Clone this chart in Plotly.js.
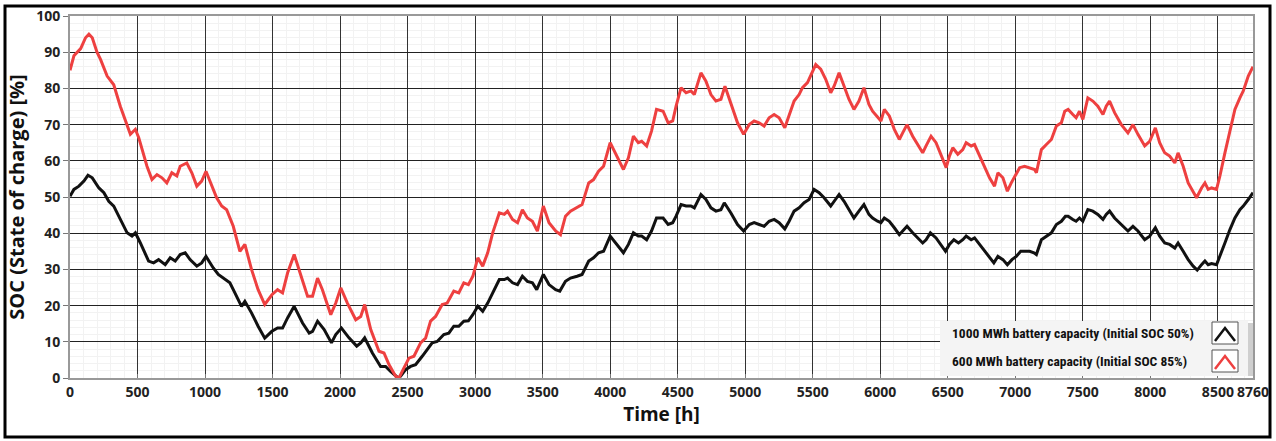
<!DOCTYPE html>
<html>
<head>
<meta charset="utf-8">
<script src="https://cdn.plot.ly/plotly-3.0.1.min.js"></script>
<style>html,body{margin:0;padding:0;background:#fff;}#chart{width:1276px;height:441px;}</style>
</head>
<body>
<div id="chart"></div>
<script>
// ---- data ----
const redHours = [0,29,79,115,140,165,200,226,275,324,373,423,447,484,509,570,607,644,681,717,754,791,816,865,902,939,975,1007,1049,1086,1123,1160,1209,1258,1295,1344,1393,1442,1495,1537,1574,1611,1660,1709,1759,1796,1833,1869,1931,1968,2005,2054,2116,2153,2182,2227,2288,2325,2362,2411,2436,2473,2510,2547,2596,2633,2670,2707,2756,2793,2842,2879,2916,2950,2983,3020,3056,3093,3130,3179,3216,3240,3277,3314,3350,3387,3424,3461,3505,3547,3596,3632,3669,3706,3755,3792,3841,3877,3914,3951,4000,4049,4098,4135,4172,4208,4233,4270,4306,4343,4392,4429,4463,4488,4525,4562,4598,4623,4672,4709,4746,4783,4820,4850,4894,4943,4988,5030,5066,5103,5140,5177,5214,5251,5293,5325,5362,5399,5424,5461,5485,5522,5559,5596,5633,5658,5695,5732,5768,5805,5842,5879,5916,5943,5980,6005,6030,6067,6104,6141,6166,6198,6240,6277,6314,6339,6376,6413,6450,6488,6512,6537,6574,6611,6636,6673,6698,6735,6772,6809,6846,6871,6908,6941,6970,7007,7032,7069,7106,7143,7156,7193,7230,7267,7304,7341,7366,7391,7426,7450,7475,7500,7537,7574,7611,7649,7673,7698,7735,7785,7834,7871,7908,7958,7995,8037,8069,8106,8143,8181,8205,8243,8280,8317,8342,8379,8404,8428,8453,8490,8515,8552,8589,8626,8663,8688,8725,8760];
const redSOC = [85,89,91,94,95,94,90,88,83.4,81,75,69.6,67.3,68.7,66.4,58.5,54.8,56.2,55.3,53.9,56.7,55.8,58.5,59.4,56.7,53,54.4,57.1,53,49.8,47.5,46.5,41.9,35,36.9,30,24.4,20.3,23,24.4,23.5,29,34.1,28.1,22.6,22.6,27.6,24.4,17.5,20.7,24.9,20.7,16.1,17,20.3,13.4,7.4,6.9,3.7,0.5,0,2.8,5.5,6,9.7,11,15.7,17,20.3,20.7,24,23.5,26.3,25.8,28.1,33.2,30.9,34.6,40.1,45.6,45.2,46.1,43.8,42.9,46.5,44.2,43.3,40.6,47.5,42.9,40.6,39.6,44.7,46.1,47,47.9,53.9,54.8,57.1,58.5,65,61.3,57.6,60.8,66.8,65,65.4,64.1,68.2,74.2,73.7,70.5,71,75.1,80.2,78.8,79.3,78.3,84.3,82,78.3,76.5,77,80.6,76,70.5,67.3,70,71,70.5,69.6,71.9,72.8,71.9,69.1,72.4,76.5,78.3,80.2,81.6,83.4,86.6,85.3,82.5,78.8,80.6,84.3,80.6,77,74.2,76.5,80.2,75.6,73.7,71.9,71,74.2,72.4,68.7,65.9,67.7,70,66.8,64.5,62.2,64.1,66.8,65,61.8,58.1,61.3,63.6,61.8,63.1,65,64.1,64.5,61.3,58.5,55.3,53,56.7,55.3,51.6,53.9,56.2,58.1,58.5,58.1,57.6,56.7,63.1,64.5,65.9,69.6,70.5,73.7,74.2,72.8,71.9,73.7,71.4,77.4,76.5,75.1,72.8,75.1,76.5,73.3,70,67.7,70,67.3,64.1,65.4,69.1,65,62.2,61.3,59.4,62.2,58.5,53.9,51.6,49.8,52.5,53.9,52.1,52.5,52.1,55.8,62.2,68.7,74.2,77.4,79.3,83.4,86];

const blackHours = [0,29,66,103,133,165,214,251,287,324,373,423,459,484,521,582,619,656,705,742,779,816,853,889,939,975,1007,1061,1098,1135,1184,1221,1270,1295,1344,1393,1442,1495,1537,1574,1611,1660,1722,1771,1796,1833,1882,1936,1968,2010,2066,2123,2153,2182,2239,2300,2337,2374,2411,2430,2448,2485,2522,2559,2608,2645,2682,2719,2768,2805,2842,2879,2916,2950,2983,3020,3056,3093,3130,3179,3216,3240,3277,3314,3350,3387,3424,3456,3505,3547,3596,3627,3669,3706,3755,3792,3841,3877,3914,3951,4000,4049,4098,4135,4172,4208,4233,4270,4306,4343,4392,4429,4463,4488,4525,4562,4598,4623,4672,4709,4746,4783,4820,4845,4894,4943,4988,5030,5066,5103,5140,5177,5214,5251,5293,5325,5362,5399,5436,5473,5510,5547,5584,5633,5658,5695,5732,5768,5805,5842,5879,5916,5943,5980,6005,6030,6067,6104,6141,6166,6198,6240,6277,6314,6339,6371,6413,6450,6483,6512,6545,6579,6611,6636,6673,6698,6735,6772,6809,6841,6871,6908,6941,6975,7007,7040,7069,7106,7138,7156,7193,7230,7267,7304,7341,7371,7391,7426,7450,7475,7500,7537,7574,7611,7649,7673,7698,7735,7785,7834,7871,7908,7958,7995,8037,8069,8106,8143,8181,8205,8243,8280,8317,8347,8379,8404,8428,8453,8490,8515,8552,8589,8626,8663,8688,8725,8760];
const blackSOC = [50.2,52.1,53,54.4,56,55.3,52.5,51.2,48.8,47.5,43.8,40.1,39.2,40.1,37.3,32.3,31.8,32.7,31.3,33.2,32.3,34.1,34.6,32.7,30.9,31.8,33.6,30.4,28.6,27.6,26.3,23.5,19.8,21.2,18,14.3,11,12.9,13.8,13.8,16.6,19.8,15.2,12.4,12.9,15.7,13.4,9.7,12,13.8,11.1,8.8,9.7,11.1,6.9,3.2,3.2,1.8,0.5,0,0.5,2.3,3.2,3.7,6,7.8,9.7,10.1,12,12.4,14.3,14.3,15.7,15.8,17.5,19.8,18.4,20.7,23.5,27.2,27.2,27.6,26.3,25.8,28.1,26.7,26.3,24.4,28.6,25.8,24.4,24,26.7,27.6,28.1,28.6,32.3,33.2,34.6,35,39.2,36.9,34.6,36.9,40.1,39.2,39.2,38.2,40.6,44.2,44.2,42.4,42.9,44.7,47.9,47.5,47.5,47,50.7,49.3,47,46.1,46.5,48.4,45.6,42.4,40.6,42.4,42.9,42.4,41.9,43.3,43.8,42.9,41.2,43.3,46.1,47,48.4,49.3,52.1,51.2,49.8,47.5,48.8,50.7,48.8,46.5,44.2,46.1,47.9,45.2,44.2,43.3,42.9,44.2,43.3,41.5,39.6,40.6,41.9,40.1,38.7,37.3,38.2,40.1,38.7,36.9,35,36.9,38.2,37.3,38.2,39.2,38.2,38.7,36.9,35,33.2,31.8,33.6,32.7,31.3,32.7,33.6,35,35,35,34.6,34.1,38.2,39.2,40.1,42.4,43.3,44.7,44.7,43.8,43.3,44.2,43.3,46.5,46.1,45.2,43.8,45.2,46.1,44.2,42.4,40.6,41.9,40.6,38.2,39.2,41.5,39.2,37.3,36.9,35.9,37.3,35,32.7,30.9,29.8,31.3,32.3,31.3,31.6,31.3,33.6,37.3,41,44.2,46.5,47.5,49.3,51.2];

const xTickVals = [0,500,1000,1500,2000,2500,3000,3500,4000,4500,5000,5500,6000,6500,7000,7500,8000,8500,8760];
const xTickText = ["0","500","1000","1500","2000","2500","3000","3500","4000","4500","5000","5500","6000","6500","7000","7500","8000","8500","8760"];
const seriesNames = ["1000 MWh battery capacity (Initial SOC 50%)", "600 MWh battery capacity (Initial SOC 85%)"];
const seriesColors = ["#111111", "#ee4040"];

// ---- layout helpers (pixel -> paper) ----
const L = 70, R = 23, T = 16, B = 63, W = 1276, H = 441;
const pw = W - L - R, ph = H - T - B;
const px = x => (x - L) / pw;
const py = y => (H - B - y) / ph;

const tickFont = {family: "'Open Sans', 'DejaVu Sans', sans-serif", size: 14, color: "#222", weight: 700};

const traces = [
  {x: blackHours, y: blackSOC, type: "scatter", mode: "lines", name: seriesNames[0],
   line: {color: seriesColors[0], width: 3}, showlegend: false},
  {x: redHours, y: redSOC, type: "scatter", mode: "lines", name: seriesNames[1],
   line: {color: seriesColors[1], width: 3}, showlegend: false}
];

const shapes = [
  // outer frame
  {type: "rect", xref: "paper", yref: "paper", x0: px(5), x1: px(1270), y0: py(437), y1: py(6),
   line: {color: "#000", width: 3}, layer: "below"},
  // legend box + shadow
  {type: "rect", xref: "paper", yref: "paper", x0: px(1246), x1: px(1253), y0: py(376), y1: py(323),
   fillcolor: "#cfcfcf", line: {width: 0}},
  {type: "rect", xref: "paper", yref: "paper", x0: px(940), x1: px(1248), y0: py(376), y1: py(321),
   fillcolor: "#f4f4f4", line: {width: 0}},
];
const annotations = [];
const rowsY = [333, 361];
for (let i = 0; i < 2; i++) {
  const cy = rowsY[i];
  shapes.push({type: "rect", xref: "paper", yref: "paper", x0: px(1212), x1: px(1238), y0: py(cy + 11), y1: py(cy - 11),
    fillcolor: "#ffffff", line: {color: "#555", width: 1}});
  shapes.push({type: "path", xref: "paper", yref: "paper",
    path: `M ${px(1215)} ${py(cy + 8)} L ${px(1225)} ${py(cy - 5)} L ${px(1235)} ${py(cy + 8)}`,
    line: {color: seriesColors[i], width: 2.5}});
  annotations.push({xref: "paper", yref: "paper", x: px(950), y: py(cy), xanchor: "left", yanchor: "middle",
    text: seriesNames[i], showarrow: false,
    font: {family: "'Liberation Sans Narrow', 'Roboto Condensed', 'Liberation Sans', sans-serif", size: 13.5, color: "#111", weight: 700}});
}

const layout = {
  width: W, height: H,
  margin: {l: L, r: R, t: T, b: B},
  paper_bgcolor: "#ffffff", plot_bgcolor: "#ffffff",
  showlegend: false,
  xaxis: {
    range: [0, 8760], tickvals: xTickVals, ticktext: xTickText,
    showgrid: true, gridcolor: "#333", gridwidth: 1,
    minor: {dtick: 100, showgrid: true, gridcolor: "#f2f2f2", gridwidth: 1},
    ticks: "inside", ticklen: 4, tickcolor: "#777",
    showline: true, linecolor: "#999", linewidth: 2, mirror: true,
    zeroline: false, tickfont: tickFont,
    title: {text: "Time [h]", font: {family: "'Open Sans', 'DejaVu Sans', sans-serif", size: 19, color: "#111", weight: 700}, standoff: 6}
  },
  yaxis: {
    range: [0, 100], dtick: 10,
    showgrid: true, gridcolor: "#222", gridwidth: 1,
    minor: {dtick: 2, showgrid: true, gridcolor: "#f2f2f2", gridwidth: 1},
    ticks: "outside", ticklen: 5, tickcolor: "#777",
    showline: true, linecolor: "#999", linewidth: 2, mirror: true,
    zeroline: false, tickfont: tickFont,
    title: {text: "SOC (State of charge) [%]", font: {family: "'Open Sans', 'DejaVu Sans', sans-serif", size: 20, color: "#111", weight: 700}, standoff: 6}
  },
  shapes: shapes,
  annotations: annotations
};

Plotly.newPlot("chart", traces, layout, {displayModeBar: false, staticPlot: true});
</script>
</body>
</html>
